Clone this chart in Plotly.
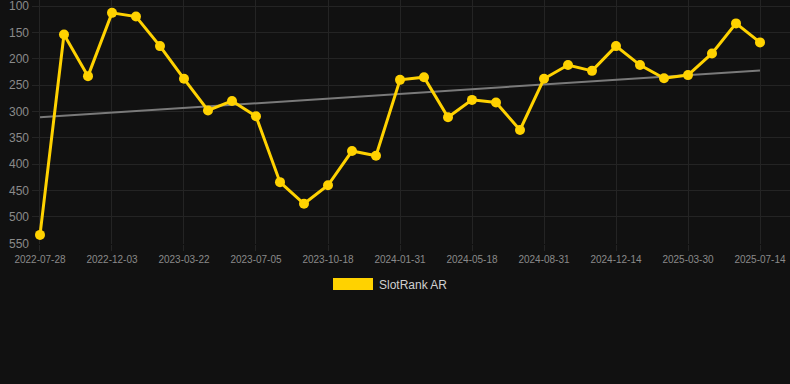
import numpy as np
import plotly.graph_objects as go

dates = [
    "2022-07-28", "2022-09-09", "2022-10-21",
    "2022-12-03", "2023-01-08", "2023-02-13",
    "2023-03-22", "2023-04-26", "2023-05-31",
    "2023-07-05", "2023-08-09", "2023-09-13",
    "2023-10-18", "2023-11-22", "2023-12-27",
    "2024-01-31", "2024-03-06", "2024-04-12",
    "2024-05-18", "2024-06-22", "2024-07-27",
    "2024-08-31", "2024-10-05", "2024-11-09",
    "2024-12-14", "2025-01-18", "2025-02-23",
    "2025-03-30", "2025-05-04", "2025-06-09",
    "2025-07-14",
]
ranks = [534, 154, 233, 113, 120, 176, 238, 298, 280, 309,
         434, 475, 440, 375, 384, 240, 235, 311, 278, 283, 335,
         238, 212, 223, 176, 212, 237, 231, 190, 133, 169]
tick_labels = dates[::3]
y_ticks = [100, 150, 200, 250, 300, 350, 400, 450, 500, 550]
series_name = "SlotRank AR"

idx = np.arange(len(ranks))
slope, intercept = np.polyfit(idx, ranks, 1)
trend = slope * idx + intercept

GOLD = "#FFD200"
GRID = "#242424"

fig = go.Figure()
fig.add_trace(go.Scatter(
    x=dates, y=trend, mode="lines",
    line=dict(color="#7a7a7a", width=2), showlegend=False, hoverinfo="skip"))
fig.add_trace(go.Scatter(
    x=dates, y=ranks, mode="lines+markers", name=series_name,
    line=dict(color=GOLD, width=3), marker=dict(size=10, color=GOLD),
    showlegend=False))

# legend drawn as swatch + text
x0, w = 32, 758
h = 244
def px(x):
    return (x - x0) / w
def py(y):
    return (h - y) / h
fig.add_shape(type="rect", xref="paper", yref="paper",
              x0=px(333), x1=px(373), y0=py(290), y1=py(278),
              fillcolor=GOLD, line=dict(width=0))
fig.add_annotation(xref="paper", yref="paper", x=px(377), y=py(284.5),
                   text=series_name, showarrow=False, xanchor="left", yanchor="middle",
                   font=dict(family="Liberation Sans, Arial", size=12, color="#d0d0d0"))

fig.update_layout(
    width=790, height=384,
    margin=dict(l=32, r=0, t=0, b=140),
    paper_bgcolor="#111111", plot_bgcolor="#111111",
    font=dict(family="Liberation Sans, Arial", color="#8a8a8a"),
    xaxis=dict(type="category", categoryorder="array", categoryarray=dates,
               range=[-0.333, 31.25], tickmode="array", tickvals=tick_labels,
               ticktext=tick_labels, showgrid=True, gridcolor=GRID, gridwidth=1,
               ticks="outside", ticklen=6, tickcolor=GRID, zeroline=False,
               showline=False, tickfont=dict(size=10, color="#8a8a8a"),
               ticklabeloverflow="allow"),
    yaxis=dict(range=[551.3, 88.6], tickmode="array", tickvals=y_ticks,
               showgrid=True, gridcolor=GRID, gridwidth=1, zeroline=False,
               ticks="", showline=False, tickfont=dict(size=12, color="#8a8a8a"),
               ticklabelstandoff=2, ticklabeloverflow="allow"),
)

fig.write_html("out.html", config={"displayModeBar": False},
               post_script="document.body.style.margin='0';document.body.style.background='#111111';")
